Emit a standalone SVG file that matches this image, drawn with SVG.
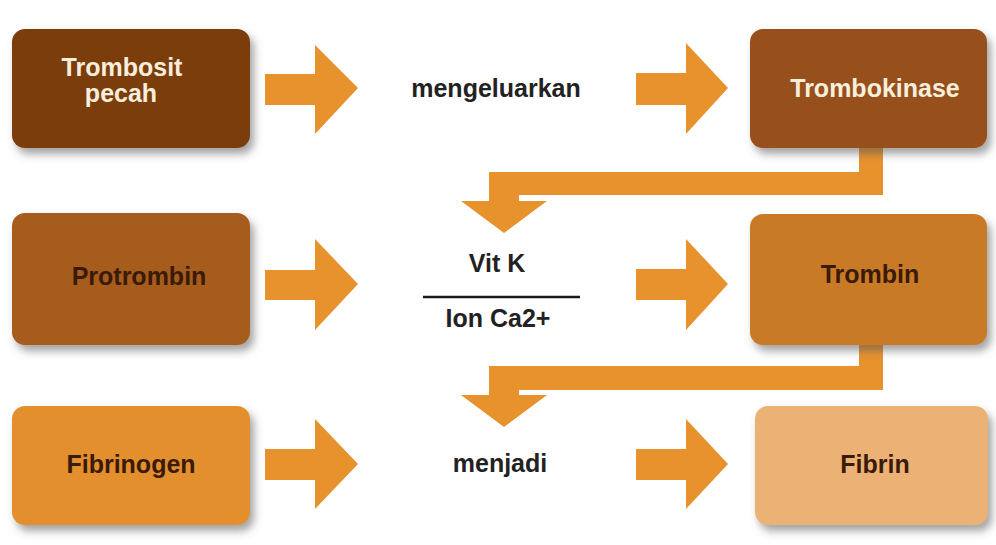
<svg xmlns="http://www.w3.org/2000/svg" width="996" height="545" viewBox="0 0 996 545">
<defs>
<filter id="sh" x="-10%" y="-10%" width="130%" height="140%">
<feDropShadow dx="4" dy="6" stdDeviation="4" flood-color="#555" flood-opacity="0.55"/>
</filter>
</defs>
<style>
.t{font-family:"Liberation Sans",Arial,sans-serif;font-weight:bold;font-size:25px;text-anchor:middle}
.lt{fill:#f7efdc}
.dk{fill:#3a1a08}
.md{fill:#222}
.arr{fill:#e8922e}
</style>
<rect width="996" height="545" fill="#fff"/>
<g id="connectors">
<polygon class="arr" points="265,74 315,74 315,45 358,88 315,134 315,105 265,105"/>
<polygon class="arr" points="636,73 686,73 686,43 728,88 686,134 686,105 636,105"/>
<polygon class="arr" points="265,270 315,270 315,239 358,284 315,330 315,300 265,300"/>
<polygon class="arr" points="636,269 686,269 686,239 728,284 686,330 686,300 636,300"/>
<polygon class="arr" points="265,449 315,449 315,419 358,464 315,509 315,480 265,480"/>
<polygon class="arr" points="636,449 686,449 686,419 728,464 686,509 686,480 636,480"/>
<polygon class="arr" points="859,148 883,148 883,195 519,195 519,201 547,201 504,233 461,201 489,201 489,172 859,172"/>
<polygon class="arr" points="859,345 883,345 883,390 519,390 519,395 547,395 504,427 461,395 489,395 489,366 859,366"/>
</g>
<g id="trombosit">
<rect x="12" y="29" width="238" height="119" rx="13" fill="#7b3c10" filter="url(#sh)"/>
<text class="t lt" x="122" y="76">Trombosit</text>
<text class="t lt" x="121" y="102">pecah</text>
</g>
<g id="mengeluarkan"><text class="t md" x="496" y="97">mengeluarkan</text></g>
<g id="trombokinase">
<rect x="750" y="29" width="237" height="119" rx="13" fill="#97501a" filter="url(#sh)"/>
<text class="t lt" x="875" y="97">Trombokinase</text>
</g>
<g id="protrombin">
<rect x="12" y="213" width="238" height="132" rx="13" fill="#a65b1b" filter="url(#sh)"/>
<text class="t dk" x="139" y="285">Protrombin</text>
</g>
<g id="vitk">
<text class="t md" x="497" y="272">Vit K</text>
<line x1="423" y1="297" x2="580" y2="297" stroke="#1a1a1a" stroke-width="2.5"/>
<text class="t md" x="498" y="327">Ion Ca2+</text>
</g>
<g id="trombin">
<rect x="750" y="214" width="237" height="131" rx="13" fill="#c97a26" filter="url(#sh)"/>
<text class="t dk" x="870" y="283">Trombin</text>
</g>
<g id="fibrinogen">
<rect x="12" y="406" width="238" height="119" rx="13" fill="#e38f2f" filter="url(#sh)"/>
<text class="t dk" x="131" y="473">Fibrinogen</text>
</g>
<g id="menjadi"><text class="t md" x="500" y="472">menjadi</text></g>
<g id="fibrin">
<rect x="755" y="406" width="233" height="119" rx="13" fill="#ecb274" filter="url(#sh)"/>
<text class="t dk" x="875" y="473">Fibrin</text>
</g>
</svg>
